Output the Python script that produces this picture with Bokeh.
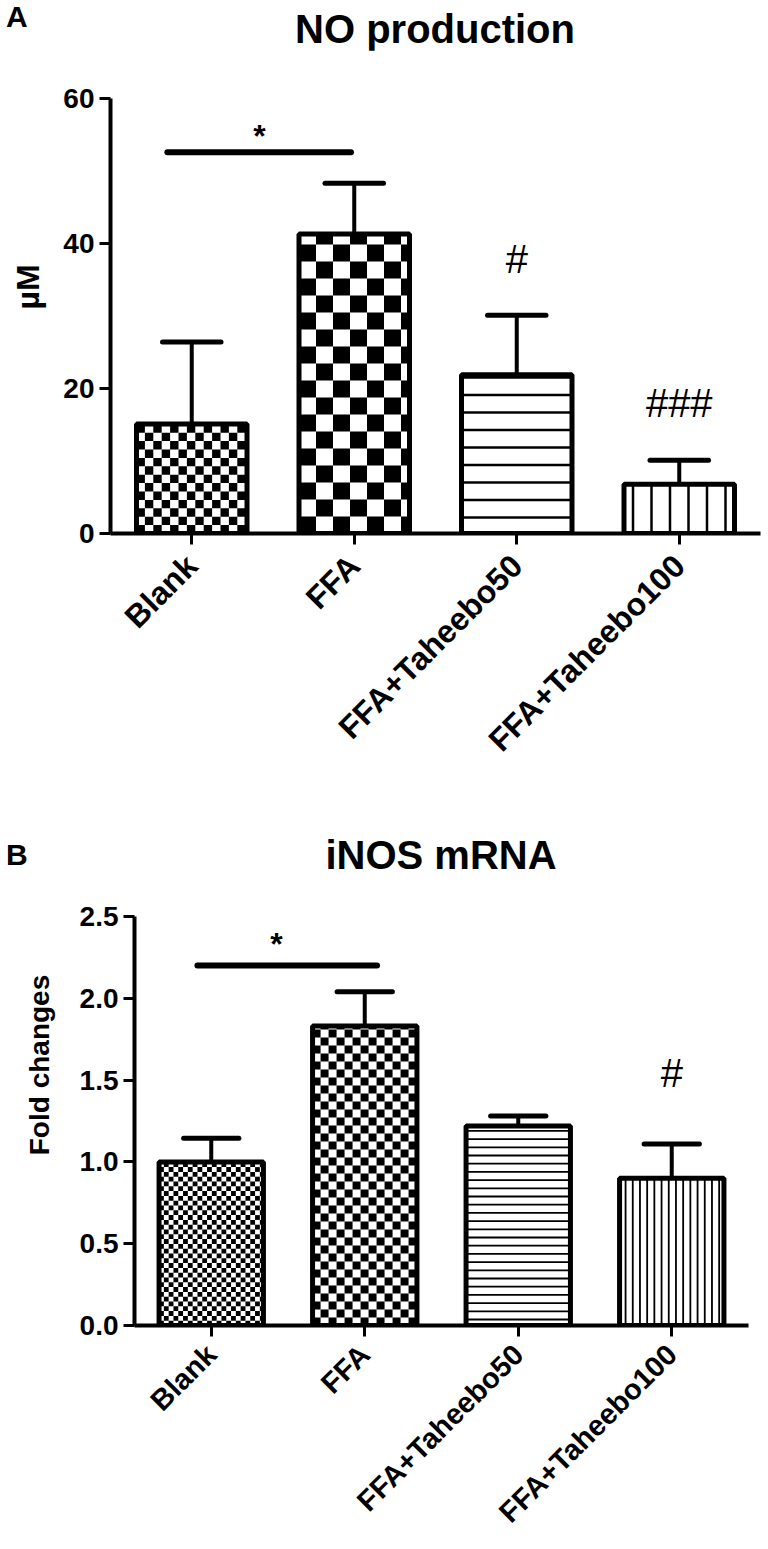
import math
import numpy as np
from bokeh.plotting import figure
from bokeh.models import Range1d, FixedTicker, Label, PrintfTickFormatter, Div
from bokeh.layouts import column, row
from bokeh.embed import file_html
from bokeh.resources import INLINE

# ---------------- data ----------------
categories = ["Blank", "FFA", "FFA+Taheebo50", "FFA+Taheebo100"]

no_means = [15.1, 41.3, 21.9, 6.8]
no_err = [11.3, 7.0, 8.2, 3.3]
no_ticks = [0, 20, 40, 60]
no_sig_y = 52.6          # Blank vs FFA bar
no_marks = ["*", "#", "###"]

inos_means = [1.0, 1.83, 1.22, 0.90]
inos_err = [0.145, 0.21, 0.06, 0.21]
inos_ticks = [0.0, 0.5, 1.0, 1.5, 2.0, 2.5]
inos_sig_y = 2.2
inos_marks = ["*", "#"]

FONT = "Liberation Sans"
BAR_W = 0.68
CAP_W = 0.36
PAGE_W = 768
SIDE_W = 56
SPAN = ("position:absolute;white-space:nowrap;line-height:1;"
        "font-family:'Liberation Sans';font-weight:bold;color:black;")


def base_fig(height, ymax, ticks, left, right, top, bottom, xfs, fmt=None):
    p = figure(width=PAGE_W - SIDE_W, height=height, x_range=Range1d(0, len(categories)),
               y_range=Range1d(0, ymax), output_backend="svg", toolbar_location=None,
               min_border_left=left, min_border_right=right, min_border_top=top,
               min_border_bottom=bottom, frame_align=False)
    p.outline_line_color = None
    p.grid.visible = False
    xs = [i + 0.5 for i in range(len(categories))]
    p.xaxis.ticker = FixedTicker(ticks=xs)
    p.xaxis.major_label_overrides = {x: c for x, c in zip(xs, categories)}
    p.xaxis.major_label_orientation = math.pi / 4
    p.yaxis.ticker = FixedTicker(ticks=ticks)
    if fmt:
        p.yaxis.formatter = PrintfTickFormatter(format=fmt)
    for ax in (p.xaxis, p.yaxis):
        ax.axis_line_width = 4
        ax.axis_line_color = "black"
        ax.major_tick_line_width = 3
        ax.major_tick_line_color = "black"
        ax.major_tick_in = 0
        ax.major_tick_out = 11
        ax.minor_tick_line_color = None
        ax.major_label_text_font = FONT
        ax.major_label_text_font_style = "bold"
        ax.major_label_text_color = "black"
    p.yaxis.major_label_text_font_size = "28px"
    p.yaxis.major_label_standoff = 5
    p.xaxis.major_label_text_font_size = f"{xfs}px"
    return p, xs


def checker(p, xc, top, cell_px, sx, sy):
    dx, dy = cell_px / sx, cell_px / sy
    left, right = xc - BAR_W / 2, xc + BAR_W / 2
    L, R, B, T = [], [], [], []
    for i, x0 in enumerate(np.arange(left, right, dx)):
        for j, y0 in enumerate(np.arange(0, top, dy)):
            if (i + j) % 2 == 0:
                L.append(x0); R.append(min(x0 + dx, right))
                B.append(y0); T.append(min(y0 + dy, top))
    p.quad(left=L, right=R, bottom=B, top=T, fill_color="black", line_color=None)


def hlines(p, xc, top, step_px, lw, sy, start_px):
    ys = np.arange(start_px / sy, top, step_px / sy)
    p.segment(x0=[xc - BAR_W / 2] * len(ys), x1=[xc + BAR_W / 2] * len(ys),
              y0=ys, y1=ys, line_color="black", line_width=lw)


def vlines(p, xc, top, step_px, lw, sx, start_px):
    xv = np.arange(xc - BAR_W / 2 + start_px / sx, xc + BAR_W / 2, step_px / sx)
    p.segment(x0=xv, x1=xv, y0=[0] * len(xv), y1=[top] * len(xv),
              line_color="black", line_width=lw)


def bars(p, xs, means, errs):
    tops = [m + e for m, e in zip(means, errs)]
    p.segment(x0=xs, x1=xs, y0=means, y1=tops, line_color="black", line_width=4)
    p.segment(x0=[x - CAP_W / 2 for x in xs], x1=[x + CAP_W / 2 for x in xs],
              y0=tops, y1=tops, line_color="black", line_width=5, line_cap="round")
    p.vbar(x=xs, top=means, width=BAR_W, bottom=0, fill_color=None,
           line_color="black", line_width=5)


def mark(p, x, y, t, size, bold, y_off=0):
    p.add_layout(Label(x=x, y=y, y_offset=y_off, text=t, text_font=FONT,
                       text_font_size=f"{size}px",
                       text_font_style="bold" if bold else "normal",
                       text_align="center", text_baseline="alphabetic",
                       text_color="black"))


def header(height, letter, letter_top, title, title_top, fl, fw):
    html = (f'<div style="position:relative;width:{PAGE_W}px;height:{height}px;">'
            f'<span style="{SPAN}left:6px;top:{letter_top}px;font-size:30px;">{letter}</span>'
            f'<span style="{SPAN}left:{fl}px;width:{fw}px;text-align:center;'
            f'top:{title_top}px;font-size:40px;">{title}</span></div>')
    return Div(text=html, width=PAGE_W, height=height, margin=(0, 0, 0, 0))


def side_title(height, text, cx, cy, size):
    html = (f'<div style="position:relative;width:{SIDE_W}px;height:{height}px;">'
            f'<span style="{SPAN}left:{cx}px;top:{cy}px;font-size:{size}px;'
            f'transform:translate(-50%,-50%) rotate(-90deg);">{text}</span></div>')
    return Div(text=html, width=SIDE_W, height=height, margin=(0, 0, 0, 0))


# ---------------- panel A ----------------
fwA, fhA = 650, 435
topA, botA = 48, 260
HA = topA + fhA + botA
pA, xs = base_fig(HA, no_ticks[-1], no_ticks, 110 - SIDE_W, 8, topA, botA, 32)
pA.xaxis.major_label_standoff = 16
sxA, syA = fwA / len(categories), fhA / no_ticks[-1]
checker(pA, xs[0], no_means[0], 8.4, sxA, syA)
checker(pA, xs[1], no_means[1], 17.0, sxA, syA)
hlines(pA, xs[2], no_means[2], 17.5, 2.5, syA, 16)
vlines(pA, xs[3], no_means[3], 18.5, 2.5, sxA, 9)
bars(pA, xs, no_means, no_err)
pA.segment(x0=[xs[0] - 0.15], x1=[xs[1] - 0.02], y0=[no_sig_y], y1=[no_sig_y],
           line_color="black", line_width=6, line_cap="round")
mark(pA, (xs[0] + xs[1]) / 2 - 0.083, no_sig_y, no_marks[0], 32, True, y_off=16)
mark(pA, xs[2], no_means[2] + no_err[2] + 7.8, no_marks[1], 40, False)
mark(pA, xs[3], no_means[3] + no_err[3] + 7.9, no_marks[2], 40, False)

# ---------------- panel B ----------------
fwB, fhB = 614, 409
topB, botB = 41, 220
HB = topB + fhB + botB
pB, xs = base_fig(HB, inos_ticks[-1], inos_ticks, 134 - SIDE_W, 20, topB, botB, 29,
                  fmt="%.1f")
pB.xaxis.major_label_standoff = 13
sxB, syB = fwB / len(categories), fhB / inos_ticks[-1]
checker(pB, xs[0], inos_means[0], 4.8, sxB, syB)
checker(pB, xs[1], inos_means[1], 8.0, sxB, syB)
hlines(pB, xs[2], inos_means[2], 8.2, 1.8, syB, 6)
vlines(pB, xs[3], inos_means[3], 7.2, 1.8, sxB, 6)
bars(pB, xs, inos_means, inos_err)
pB.segment(x0=[xs[0] - 0.09], x1=[xs[1] + 0.08], y0=[inos_sig_y], y1=[inos_sig_y],
           line_color="black", line_width=6, line_cap="round")
mark(pB, (xs[0] + xs[1]) / 2 - 0.075, inos_sig_y, inos_marks[0], 32, True, y_off=22)
mark(pB, xs[3], inos_means[3] + inos_err[3] + 0.433, inos_marks[1], 40, False)

hA = header(50, "A", 1.6, "NO production", 9.1, 110, 650)
hB = header(82, "B", 46.6, "iNOS mRNA", 42.1, 134, 614)
yA = side_title(HA, "µM", 28, 287 - 50, 32)
yB = side_title(HB, "Fold changes", 40, 1065 - (50 + HA + 82), 28)

layout = column(hA, row(yA, pA, spacing=0), hB, row(yB, pB, spacing=0), spacing=0)
open("out.html", "w").write(file_html(layout, INLINE))
